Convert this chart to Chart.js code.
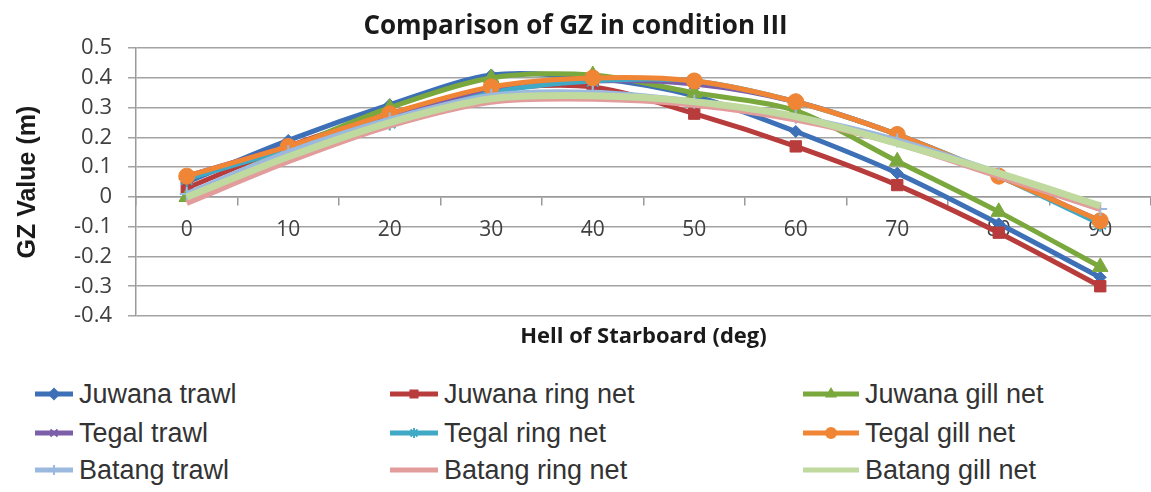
<!DOCTYPE html>
<html>
<head>
<meta charset="utf-8">
<script src="https://cdn.jsdelivr.net/npm/chart.js@4.4.1/dist/chart.umd.min.js"></script>
<style>
  html, body { margin: 0; padding: 0; background: #ffffff; }
  #wrap { position: relative; width: 1151px; height: 492px; overflow: hidden; }
  #chartBox { position: absolute; left: 0; top: 0; width: 1151px; height: 360px; }
  #legend { position: absolute; left: 0; top: 370px; width: 1151px; height: 122px; }
  .item { position: absolute; height: 40px; display: flex; align-items: center;
          font-family: "Liberation Sans", Arial, sans-serif; font-size: 27px; color: #333333; white-space: nowrap; }
  .item canvas { margin-right: 6px; }
</style>
</head>
<body>
<div id="wrap">
  <div id="chartBox"><canvas id="c" width="1151" height="360"></canvas></div>
  <div id="legend"></div>
</div>
<script>
const categories = ['0', '10', '20', '30', '40', '50', '60', '70', '80', '90'];
const yTickValues = [-0.4, -0.3, -0.2, -0.1, 0, 0.1, 0.2, 0.3, 0.4, 0.5];
const seriesNames = ['Juwana trawl', 'Juwana ring net', 'Juwana gill net',
                     'Tegal trawl', 'Tegal ring net', 'Tegal gill net',
                     'Batang trawl', 'Batang ring net', 'Batang gill net'];
const juwanaTrawl   = [0.05, 0.19, 0.31, 0.41, 0.40, 0.34, 0.22, 0.08, -0.09, -0.27];
const juwanaRingNet = [0.03, 0.17, 0.28, 0.36, 0.37, 0.28, 0.17, 0.04, -0.12, -0.30];
const juwanaGillNet = [0.00, 0.16, 0.30, 0.40, 0.41, 0.35, 0.29, 0.12, -0.05, -0.235];
const tegalTrawl    = [0.07, 0.17, 0.27, 0.36, 0.39, 0.38, 0.32, 0.21, 0.07, -0.08];
const tegalRingNet  = [0.06, 0.16, 0.25, 0.35, 0.39, 0.39, 0.32, 0.21, 0.07, -0.09];
const tegalGillNet  = [0.07, 0.17, 0.28, 0.37, 0.40, 0.39, 0.32, 0.21, 0.07, -0.08];
const batangTrawl   = [0.01, 0.15, 0.26, 0.34, 0.35, 0.32, 0.27, 0.19, 0.08, -0.04];
const batangRingNet = [-0.02, 0.12, 0.24, 0.32, 0.33, 0.31, 0.26, 0.18, 0.07, -0.04];
const batangGillNet = [0.00, 0.135, 0.25, 0.33, 0.34, 0.32, 0.27, 0.18, 0.08, -0.03];

const seriesData = [juwanaTrawl, juwanaRingNet, juwanaGillNet, tegalTrawl, tegalRingNet,
                    tegalGillNet, batangTrawl, batangRingNet, batangGillNet];
const styles = [
  { color: '#3d70b6', marker: 'rectRot', r: 6,  w: 5 },
  { color: '#b83c3c', marker: 'rect',    r: 8,  w: 5 },
  { color: '#7ba83d', marker: 'triangle',r: 9,  w: 5 },
  { color: '#7d5ea8', marker: 'crossRot',r: 7,  w: 5 },
  { color: '#3fa9c6', marker: 'star',    r: 8,  w: 5 },
  { color: '#ef8535', marker: 'circle',  r: 8,  w: 5 },
  { color: '#9bb8de', marker: 'cross',   r: 7,  w: 6 },
  { color: '#e39c9c', marker: false,     r: 0,  w: 6 },
  { color: '#bfd99e', marker: false,     r: 0,  w: 7 }
];

const lineMarkers = ['crossRot', 'star', 'cross'];
const datasets = seriesNames.map((name, i) => ({
  label: name,
  data: seriesData[i],
  borderColor: styles[i].color,
  backgroundColor: styles[i].color,
  borderWidth: styles[i].w,
  pointStyle: styles[i].marker,
  pointRadius: styles[i].r,
  pointBorderWidth: lineMarkers.includes(styles[i].marker) ? 2 : 1,
  pointHoverRadius: styles[i].r,
  tension: 0.3,
  fill: false,
  order: seriesNames.length - i
}));

const axisFont = { family: '"Open Sans", "Liberation Sans", sans-serif', size: 22 };

new Chart(document.getElementById('c'), {
  type: 'line',
  data: { labels: categories, datasets },
  options: {
    responsive: false,
    animation: false,
    layout: { autoPadding: false, padding: { left: 0, right: 0, top: 0, bottom: 0 } },
    plugins: {
      legend: { display: false },
      tooltip: { enabled: false },
      title: {
        display: true,
        text: 'Comparison of GZ in condition III',
        color: '#1a1a1a',
        font: { family: '"Open Sans", sans-serif', size: 26, weight: 'bold' },
        padding: { top: 11, bottom: 6 }
      },
      subtitle: {
        display: true,
        position: 'bottom',
        fullSize: false,
        text: 'Hell of Starboard (deg)',
        color: '#1a1a1a',
        font: { family: '"Open Sans", sans-serif', size: 22, weight: 'bold' },
        padding: { top: 8, bottom: 9.6 }
      }
    },
    scales: {
      x: {
        type: 'category',
        position: { y: 0 },
        offset: true,
        border: { display: true, color: '#9a9a9a', width: 1.5 },
        grid: { display: true, offset: true, drawOnChartArea: false, drawTicks: true, tickLength: 8, color: '#9a9a9a', lineWidth: 1.5 },
        ticks: { color: '#404040', font: { family: '"Open Sans", sans-serif', size: 21 }, padding: 12, maxRotation: 0 }
      },
      y: {
        min: -0.4,
        max: 0.5,
        afterBuildTicks: (s) => { s.ticks = yTickValues.map(v => ({ value: v })); },
        afterFit: (s) => { s.width = 136; },
        border: { display: true, color: '#9a9a9a', width: 1.5 },
        grid: { color: '#a3a3a3', lineWidth: 1.5, tickLength: 8, drawTicks: true },
        ticks: {
          color: '#404040', font: axisFont, padding: 16,
          callback: (v) => (Math.round(v * 10) / 10).toString()
        },
        title: {
          display: true,
          text: 'GZ Value (m)',
          color: '#1a1a1a',
          font: { family: '"Liberation Sans", Arial, sans-serif', size: 25, weight: 'bold' },
          padding: { top: 13, bottom: 0 }
        }
      }
    }
  }
});

// HTML legend in three columns, built from the series names and styles
const colX = [35, 390, 803];
const sampleW = [38, 48, 56];
const rowY = [394, 433, 470];
const legend = document.getElementById('legend');
const order = [[0, 1, 2], [3, 4, 5], [6, 7, 8]];
order.forEach((row, r) => {
  row.forEach((idx, c) => {
    const div = document.createElement('div');
    div.className = 'item';
    div.style.left = colX[c] + 'px';
    div.style.top = (rowY[r] - 370 - 20) + 'px';
    const cv = document.createElement('canvas');
    const sw = sampleW[c];
    cv.width = sw; cv.height = 20;
    const ctx = cv.getContext('2d');
    ctx.strokeStyle = styles[idx].color;
    ctx.fillStyle = styles[idx].color;
    ctx.lineWidth = 5;
    ctx.beginPath(); ctx.moveTo(0, 10); ctx.lineTo(sw, 10); ctx.stroke();
    if (styles[idx].marker) {
      ctx.lineWidth = 2;
      Chart.helpers.drawPoint(ctx, { pointStyle: styles[idx].marker, radius: 5, rotation: 0, borderWidth: 2 }, sw / 2, 10);
    }
    div.appendChild(cv);
    const span = document.createElement('span');
    span.textContent = seriesNames[idx];
    div.appendChild(span);
    legend.appendChild(div);
  });
});
</script>
</body>
</html>
